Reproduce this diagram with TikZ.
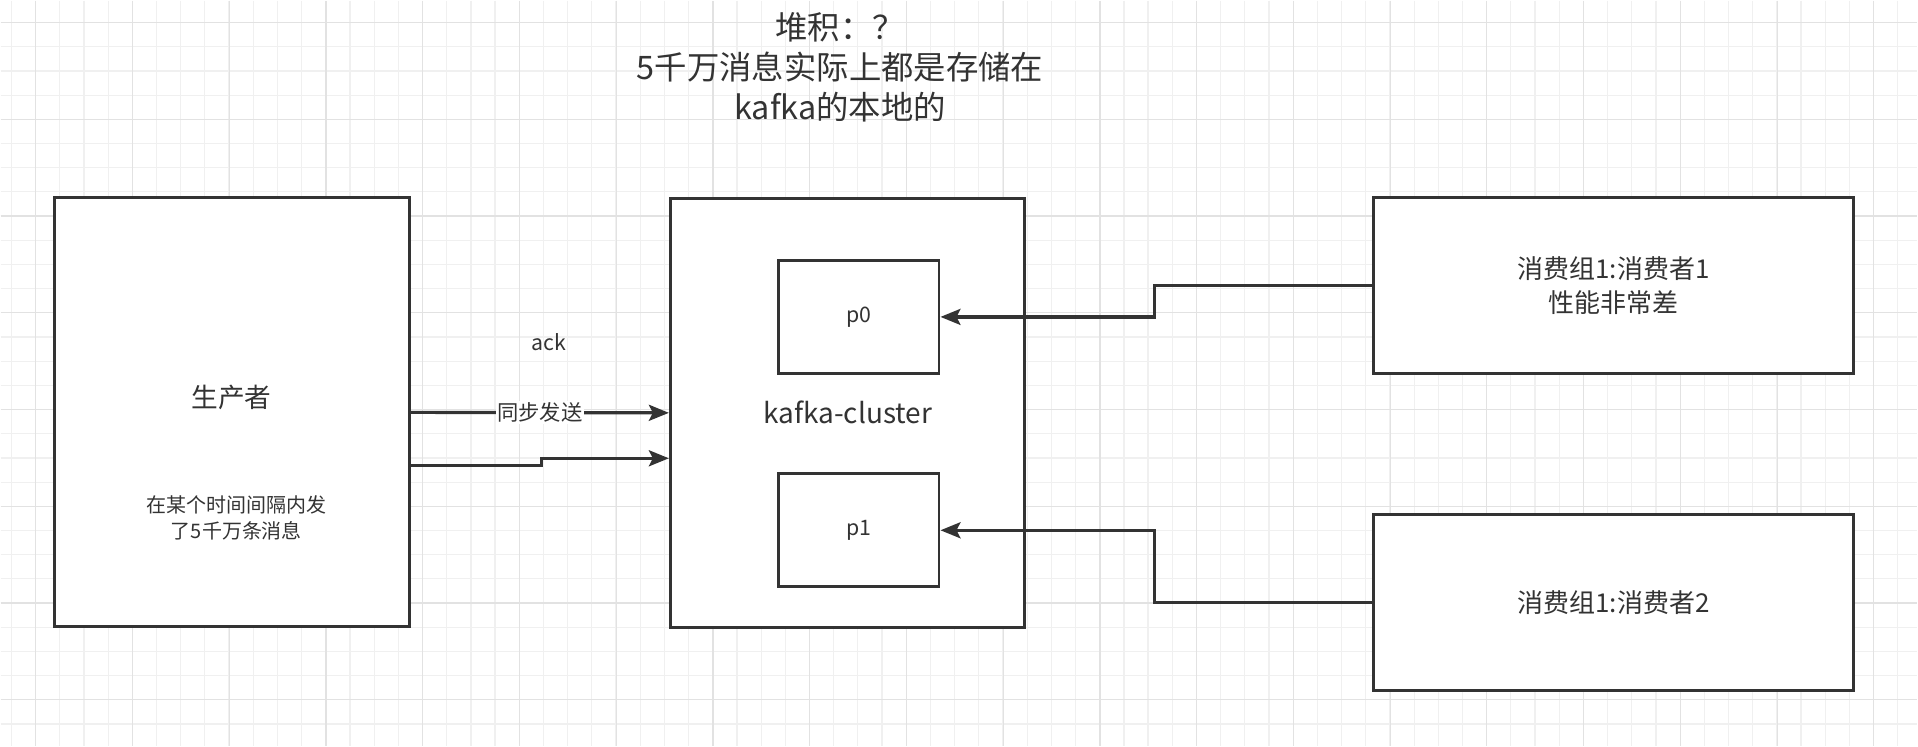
\documentclass[tikz,border=0pt]{standalone}
\usepackage{fontspec}
\setmainfont{Noto Sans CJK SC}
\usepackage{tikz}
\usetikzlibrary{shapes.geometric, arrows.meta, positioning}
\definecolor{linegray}{RGB}{51,51,51}
\definecolor{gridminor}{RGB}{240,240,240}
\definecolor{gridmajor}{RGB}{226,226,226}
\tikzstyle{general} = [rectangle, draw=linegray, line width=2.2pt, fill=white, text=linegray, inner sep=0pt, text centered]
\tikzstyle{server} = [general, minimum width=266pt, minimum height=322pt]
\tikzstyle{partition} = [general, minimum width=120.75pt, minimum height=85pt, font=\fontsize{16}{19}\selectfont]
\tikzstyle{client} = [general, minimum width=360pt, minimum height=132pt, font=\fontsize{19.5}{25.5}\selectfont]
\tikzstyle{plain} = [text=linegray, inner sep=0pt, text centered]
\tikzstyle{flow} = [draw=linegray, line width=2.4pt, ->, >={Stealth[length=15pt, width=12pt, inset=3pt]}]

\begin{document}
\begin{tikzpicture}[x=0.75pt, y=-0.75pt, nodes={align=center}]
  % grid paper
  \fill[white] (0,0) rectangle (1918,746);
  \foreach \gx in {10.8,35,...,1918} \draw[gridminor, line width=0.9pt] (\gx,0) -- (\gx,746);
  \foreach \gy in {22,46.2,...,746} \draw[gridminor, line width=0.9pt] (0,\gy) -- (1918,\gy);
  \foreach \gx in {35.2,132,...,1918} \draw[gridmajor, line width=0.9pt] (\gx,0) -- (\gx,746);
  \foreach \gy in {22,118.8,...,746} \draw[gridmajor, line width=0.9pt] (0,\gy) -- (1918,\gy);
  \useasboundingbox (0,0) rectangle (1918,746);

  \node (title) [plain, font=\fontsize{24.3}{30}\selectfont] at (840,67) {堆积：？\\5千万消息实际上都是存储在\\kafka的本地的};

  \node (producer) [server] at (231.5,412) {};
  \node (prodname) [plain, font=\fontsize{20}{24}\selectfont] at (231,397) {生产者};
  \node (prodnote) [plain, font=\fontsize{15}{19}\selectfont] at (236,517.5) {在某个时间间隔内发\\了5千万条消息};

  \node (kafka) [server, font=\fontsize{21}{25}\selectfont] at (847.5,412.5) {kafka-cluster};
  \node (p0) [partition] at (858.5,316.5) {p0};
  \node (p1) [partition] at (858.5,530) {p1};

  \node (cons1) [client] at (1614,285) {消费组1:消费者1\\性能非常差};
  \node (cons2) [client] at (1614,602) {消费组1:消费者2};

  \node (ack) [plain, font=\fontsize{16}{19}\selectfont] at (549,342) {ack};

  \draw [flow] (producer.east) -- node[plain, fill=white, inner sep=1pt, font=\fontsize{16}{19}\selectfont] (sync) {同步发送} (kafka.west);
  \draw [flow] ([yshift=-39.75pt]producer.east) -- ++(131,0) |- ([yshift=-34.1pt]kafka.west);
  \draw [flow] (cons1.west) -- ++(-218,0) |- (p0.east);
  \draw [flow] (cons2.west) -- ++(-218,0) |- (p1.east);
\end{tikzpicture}
\end{document}
